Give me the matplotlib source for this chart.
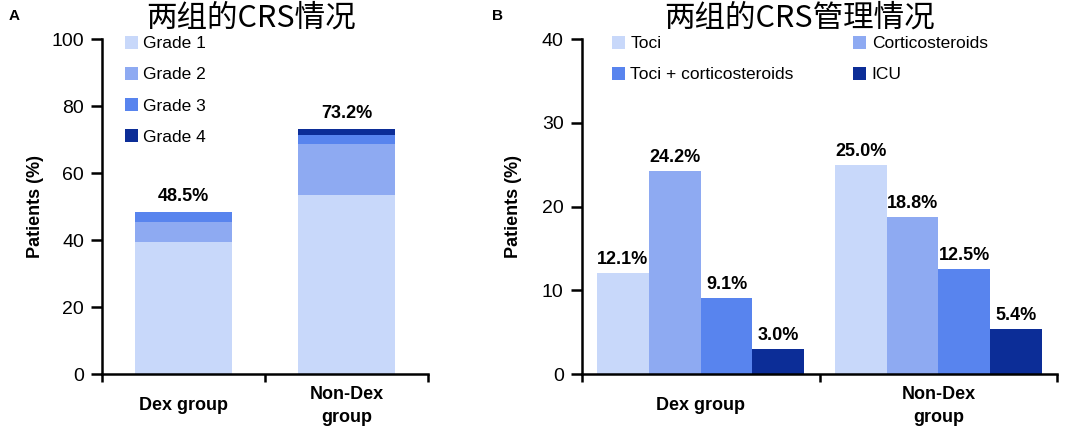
import matplotlib
matplotlib.use("Agg")
import matplotlib.pyplot as plt
import matplotlib.transforms as mtransforms
import numpy as np

plt.rcParams['font.family'] = ['Liberation Sans', 'DejaVu Sans']

groups = ["Dex group", "Non-Dex\ngroup"]

# panel A: CRS grade, stacked
grades = ["Grade 1", "Grade 2", "Grade 3", "Grade 4"]
grade1 = [39.4, 53.6]
grade2 = [6.1, 15.1]
grade3 = [3.0, 2.7]
grade4 = [0.0, 1.8]
totals_a = ["48.5%", "73.2%"]

# panel B: CRS management
mgmt = ["Toci", "Corticosteroids", "Toci + corticosteroids", "ICU"]
toci = [12.1, 25.0]
cortico = [24.2, 18.8]
toci_cortico = [9.1, 12.5]
icu = [3.0, 5.4]

colors = ["#c8d8fa", "#8eaaf2", "#5884ee", "#0c2d97"]
cjk = ['Noto Sans CJK SC', 'DejaVu Sans']

fig = plt.figure(figsize=(10.8, 4.3), dpi=100)
axA = fig.add_axes([0.0944, 0.130, 0.302, 0.779])
axB = fig.add_axes([0.5386, 0.130, 0.4405, 0.779])


def style_axis(ax, ymax, step, labx):
    for s in ["top", "right"]:
        ax.spines[s].set_visible(False)
    for s in ["left", "bottom"]:
        ax.spines[s].set_linewidth(1.8)
    ax.set_xlim(0, 2)
    ax.set_ylim(0, ymax)
    ax.set_yticks(np.arange(0, ymax + 1, step))
    ax.tick_params(axis="y", direction="out", length=8, width=1.8, labelsize=14, pad=5)
    ax.set_xticks([0, 1, 2])
    ax.set_xticklabels([])
    ax.tick_params(axis="x", direction="out", length=6, width=1.8)
    ax.set_ylabel("Patients (%)", fontsize=13, fontweight="bold")
    ax.yaxis.set_label_coords(labx, 0.5)
    trans = mtransforms.blended_transform_factory(ax.transData, ax.transAxes)
    for i, g in enumerate(groups):
        ax.text(i + 0.5, -0.095, g, transform=trans, ha="center", va="center",
                fontsize=13, fontweight="bold", linespacing=1.5)


# ---- panel A ----
x = np.arange(2) + 0.5
w = 0.59
bottom = np.zeros(2)
for vals, c, lab in zip([grade1, grade2, grade3, grade4], colors, grades):
    axA.bar(x, vals, w, bottom=bottom, color=c, label=lab)
    bottom = bottom + np.array(vals)
for xi, top, t in zip(x, bottom, totals_a):
    axA.text(xi, top + 2.0, t, ha="center", va="bottom", fontsize=13, fontweight="bold")
style_axis(axA, 100, 20, -0.177)
axA.legend(loc="upper left", bbox_to_anchor=(0.05, 1.03), frameon=False, fontsize=12.5,
           handlelength=0.75, handleheight=0.75, handletextpad=0.3, labelspacing=0.9,
           borderaxespad=0)

# ---- panel B ----
bw = 0.218
handles = []
for k, (vals, c, lab) in enumerate(zip([toci, cortico, toci_cortico, icu], colors, mgmt)):
    xs = x + (k - 1.5) * bw
    handles.append(axB.bar(xs, vals, bw, color=c, label=lab))
    for xi, v in zip(xs, vals):
        axB.text(xi, v + 0.6, "%.1f%%" % v, ha="center", va="bottom", fontsize=13,
                 fontweight="bold")
style_axis(axB, 40, 10, -0.125)
order = [0, 2, 1, 3]
axB.legend([handles[i] for i in order], [mgmt[i] for i in order],
           loc="upper left", bbox_to_anchor=(0.049, 1.03), ncol=2, frameon=False,
           fontsize=12.5, handlelength=0.75, handleheight=0.75, handletextpad=0.3,
           labelspacing=0.9, columnspacing=3.45, borderaxespad=0)

fig.text(251 / 1080, 1 - 18 / 430, "两组的CRS情况", family=cjk, fontsize=22,
         ha="center", va="center")
fig.text(800 / 1080, 1 - 18 / 430, "两组的CRS管理情况", family=cjk, fontsize=22,
         ha="center", va="center")
fig.text(0.008, 0.962, "A", fontsize=11, fontweight="bold", ha="left", va="center")
fig.text(0.456, 0.962, "B", fontsize=11, fontweight="bold", ha="left", va="center")

fig.savefig("out.png", dpi=100)
